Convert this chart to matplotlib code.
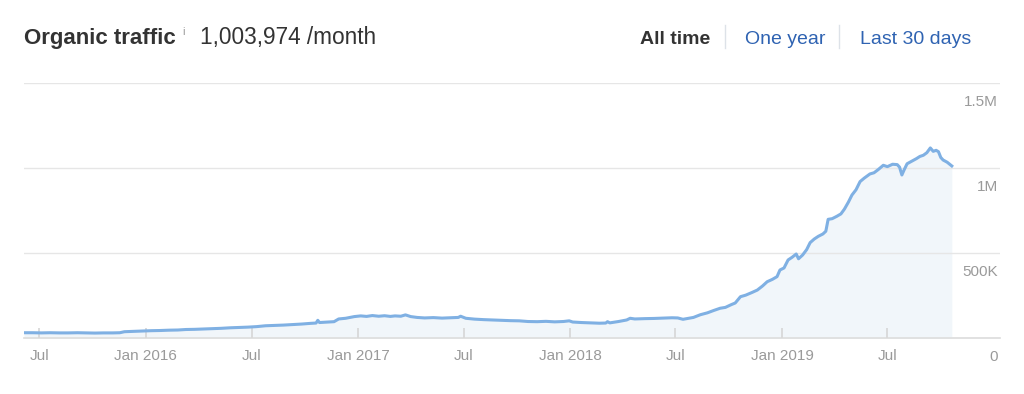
import matplotlib
matplotlib.use("Agg")
import matplotlib.pyplot as plt
import matplotlib.transforms as mtransforms
from matplotlib.lines import Line2D
import pandas as pd

plt.rcParams['font.family'] = ['Liberation Sans', 'DejaVu Sans']

# ---- data ----
dates = [
    "2015-06-05", "2015-06-20", "2015-07-05", "2015-07-20", "2015-08-05", "2015-08-20",
    "2015-09-05", "2015-09-20", "2015-10-05", "2015-10-20", "2015-11-05", "2015-11-17",
    "2015-11-25", "2015-12-10", "2015-12-25", "2016-01-10", "2016-01-25", "2016-02-10",
    "2016-02-25", "2016-03-10", "2016-03-25", "2016-04-10", "2016-04-25", "2016-05-10",
    "2016-05-25", "2016-06-10", "2016-06-25", "2016-07-10", "2016-07-25", "2016-08-10",
    "2016-08-25", "2016-09-10", "2016-09-25", "2016-10-10", "2016-10-20", "2016-10-23",
    "2016-10-26", "2016-11-10", "2016-11-20", "2016-11-28", "2016-12-10", "2016-12-25",
    "2017-01-05", "2017-01-15", "2017-01-25", "2017-02-05", "2017-02-15", "2017-02-25",
    "2017-03-05", "2017-03-15", "2017-03-23", "2017-04-01", "2017-04-12", "2017-04-25",
    "2017-05-10", "2017-05-25", "2017-06-10", "2017-06-22", "2017-06-26", "2017-07-05",
    "2017-07-20", "2017-08-05", "2017-08-20", "2017-09-05", "2017-09-20", "2017-10-05",
    "2017-10-20", "2017-11-05", "2017-11-20", "2017-12-05", "2017-12-20", "2017-12-30",
    "2018-01-05", "2018-01-20", "2018-02-05", "2018-02-20", "2018-03-03", "2018-03-06",
    "2018-03-10", "2018-03-25", "2018-04-08", "2018-04-14", "2018-04-22", "2018-05-10",
    "2018-05-25", "2018-06-10", "2018-06-25", "2018-07-05", "2018-07-14", "2018-07-22",
    "2018-08-01", "2018-08-13", "2018-08-25", "2018-09-05", "2018-09-16", "2018-09-25",
    "2018-10-05", "2018-10-12", "2018-10-21", "2018-10-30", "2018-11-10", "2018-11-19",
    "2018-11-28", "2018-12-06", "2018-12-15", "2018-12-23", "2018-12-28", "2019-01-04",
    "2019-01-11", "2019-01-18", "2019-01-25", "2019-01-29", "2019-02-05", "2019-02-12",
    "2019-02-18", "2019-02-25", "2019-03-04", "2019-03-12", "2019-03-17", "2019-03-21",
    "2019-03-28", "2019-04-05", "2019-04-12", "2019-04-18", "2019-04-25", "2019-05-01",
    "2019-05-08", "2019-05-15", "2019-05-22", "2019-06-01", "2019-06-08", "2019-06-15",
    "2019-06-24", "2019-07-01", "2019-07-10", "2019-07-18", "2019-07-22", "2019-07-26",
    "2019-07-30", "2019-08-04", "2019-08-12", "2019-08-20", "2019-08-26", "2019-09-01",
    "2019-09-07", "2019-09-13", "2019-09-18", "2019-09-23", "2019-09-27", "2019-10-01",
    "2019-10-05", "2019-10-12", "2019-10-20",
]
traffic_k = [
    31, 31, 30, 31, 30, 30,
    31, 30, 29, 30, 30, 31,
    37, 39, 41, 43, 44, 46,
    47, 50, 51, 53, 55, 57,
    60, 62, 64, 67, 72, 74,
    76, 79, 82, 86, 88, 104,
    91, 94, 96, 112, 116, 126,
    130, 127, 132, 128, 131, 127,
    130, 128, 136, 126, 121, 118,
    120, 117, 119, 121, 128, 116,
    111, 108, 106, 104, 102, 101,
    97, 96, 98, 95, 97, 101,
    94, 91, 89, 87, 88, 96,
    89, 97, 106, 116, 112, 114,
    115, 117, 119, 118, 110, 115,
    121, 137, 148, 162, 175, 180,
    196, 206, 243, 252, 268, 282,
    306, 331, 345, 361, 400, 412,
    459, 475, 494, 466, 488, 520,
    561, 582, 598, 612, 628, 698,
    702, 716, 730, 758, 800, 841,
    872, 920, 940, 965, 972, 990,
    1016, 1008, 1022, 1020, 1005, 959,
    990, 1025, 1040, 1055, 1068, 1075,
    1090, 1118, 1098, 1104, 1096, 1062,
    1047, 1034, 1012,
]
x_tick_dates = ["2015-07-01", "2016-01-01", "2016-07-01", "2017-01-01", "2017-07-01",
                "2018-01-01", "2018-07-01", "2019-01-01", "2019-07-01"]
x_tick_labels = ["Jul", "Jan 2016", "Jul", "Jan 2017", "Jul",
                 "Jan 2018", "Jul", "Jan 2019", "Jul"]
y_ticks = [0, 500000, 1000000, 1500000]
y_tick_labels = ["0", "500K", "1M", "1.5M"]
x_range = ["2015-06-05", "2020-01-11"]

# ---- figure ----
W, H = 1024, 394
fig = plt.figure(figsize=(W / 100, H / 100), dpi=100)
ax = fig.add_axes([24 / W, 1 - 338 / H, (1000 - 24) / W, (338 - 83) / H])

xs = pd.to_datetime(dates)
ys = [v * 1000 for v in traffic_k]

line_color = "#7FB0E3"
ax.fill_between(xs, 0, ys, color="#F1F6FA", lw=0, zorder=1)
ax.plot(xs, ys, color=line_color, lw=2.2, solid_joinstyle="round", zorder=3)

ax.set_xlim(pd.to_datetime(x_range[0]), pd.to_datetime(x_range[1]))
ax.set_ylim(0, 1500000)

for s in ["top", "left", "right"]:
    ax.spines[s].set_visible(False)
ax.spines["bottom"].set_color("#DCDCDC")
ax.spines["bottom"].set_linewidth(1.2)

ax.set_yticks(y_ticks)
ax.set_yticklabels([])
ax.tick_params(axis="y", length=0)
ax.set_axisbelow(False)
ax.grid(axis="y", color="#E6E6E6", lw=1.0)

ax.set_xticks(pd.to_datetime(x_tick_dates))
ax.set_xticklabels(x_tick_labels)
ax.tick_params(axis="x", direction="in", length=7, width=1.2, color="#D6D6D6",
               labelsize=11, labelcolor="#9A9A9A", pad=8)

# y labels inside, right aligned, below their gridlines
offset = mtransforms.ScaledTranslation(0, -19 / 100, fig.dpi_scale_trans)
trans = mtransforms.blended_transform_factory(ax.transAxes, ax.transData) + offset
for v, lab in zip(y_ticks, y_tick_labels):
    ax.text(0.998, v, lab, transform=trans, ha="right", va="center",
            fontsize=11, color="#9A9A9A")

# ---- header ----
ty = 1 - 44 / H
fig.text(24 / W, ty, "Organic traffic", fontsize=16, fontweight="bold",
         color="#333333", ha="left", va="baseline")
fig.text(182 / W, 1 - 35 / H, "i", fontsize=8, color="#9A9A9A", ha="left", va="baseline")
fig.text(200 / W, ty, "1,003,974 /month", fontsize=16.3, color="#333333",
         ha="left", va="baseline")

fig.text(640 / W, ty, "All time", fontsize=14, fontweight="bold",
         color="#333333", ha="left", va="baseline")
fig.text(745 / W, ty, "One year", fontsize=14, color="#2F63B2", ha="left", va="baseline")
fig.text(860 / W, ty, "Last 30 days", fontsize=14, color="#2F63B2", ha="left", va="baseline")
for sx in [725, 839]:
    fig.add_artist(Line2D([sx / W, sx / W], [1 - 25 / H, 1 - 48 / H],
                          transform=fig.transFigure, color="#DDE2E8", lw=1.0))

fig.savefig("out.png", dpi=100, facecolor="white")
